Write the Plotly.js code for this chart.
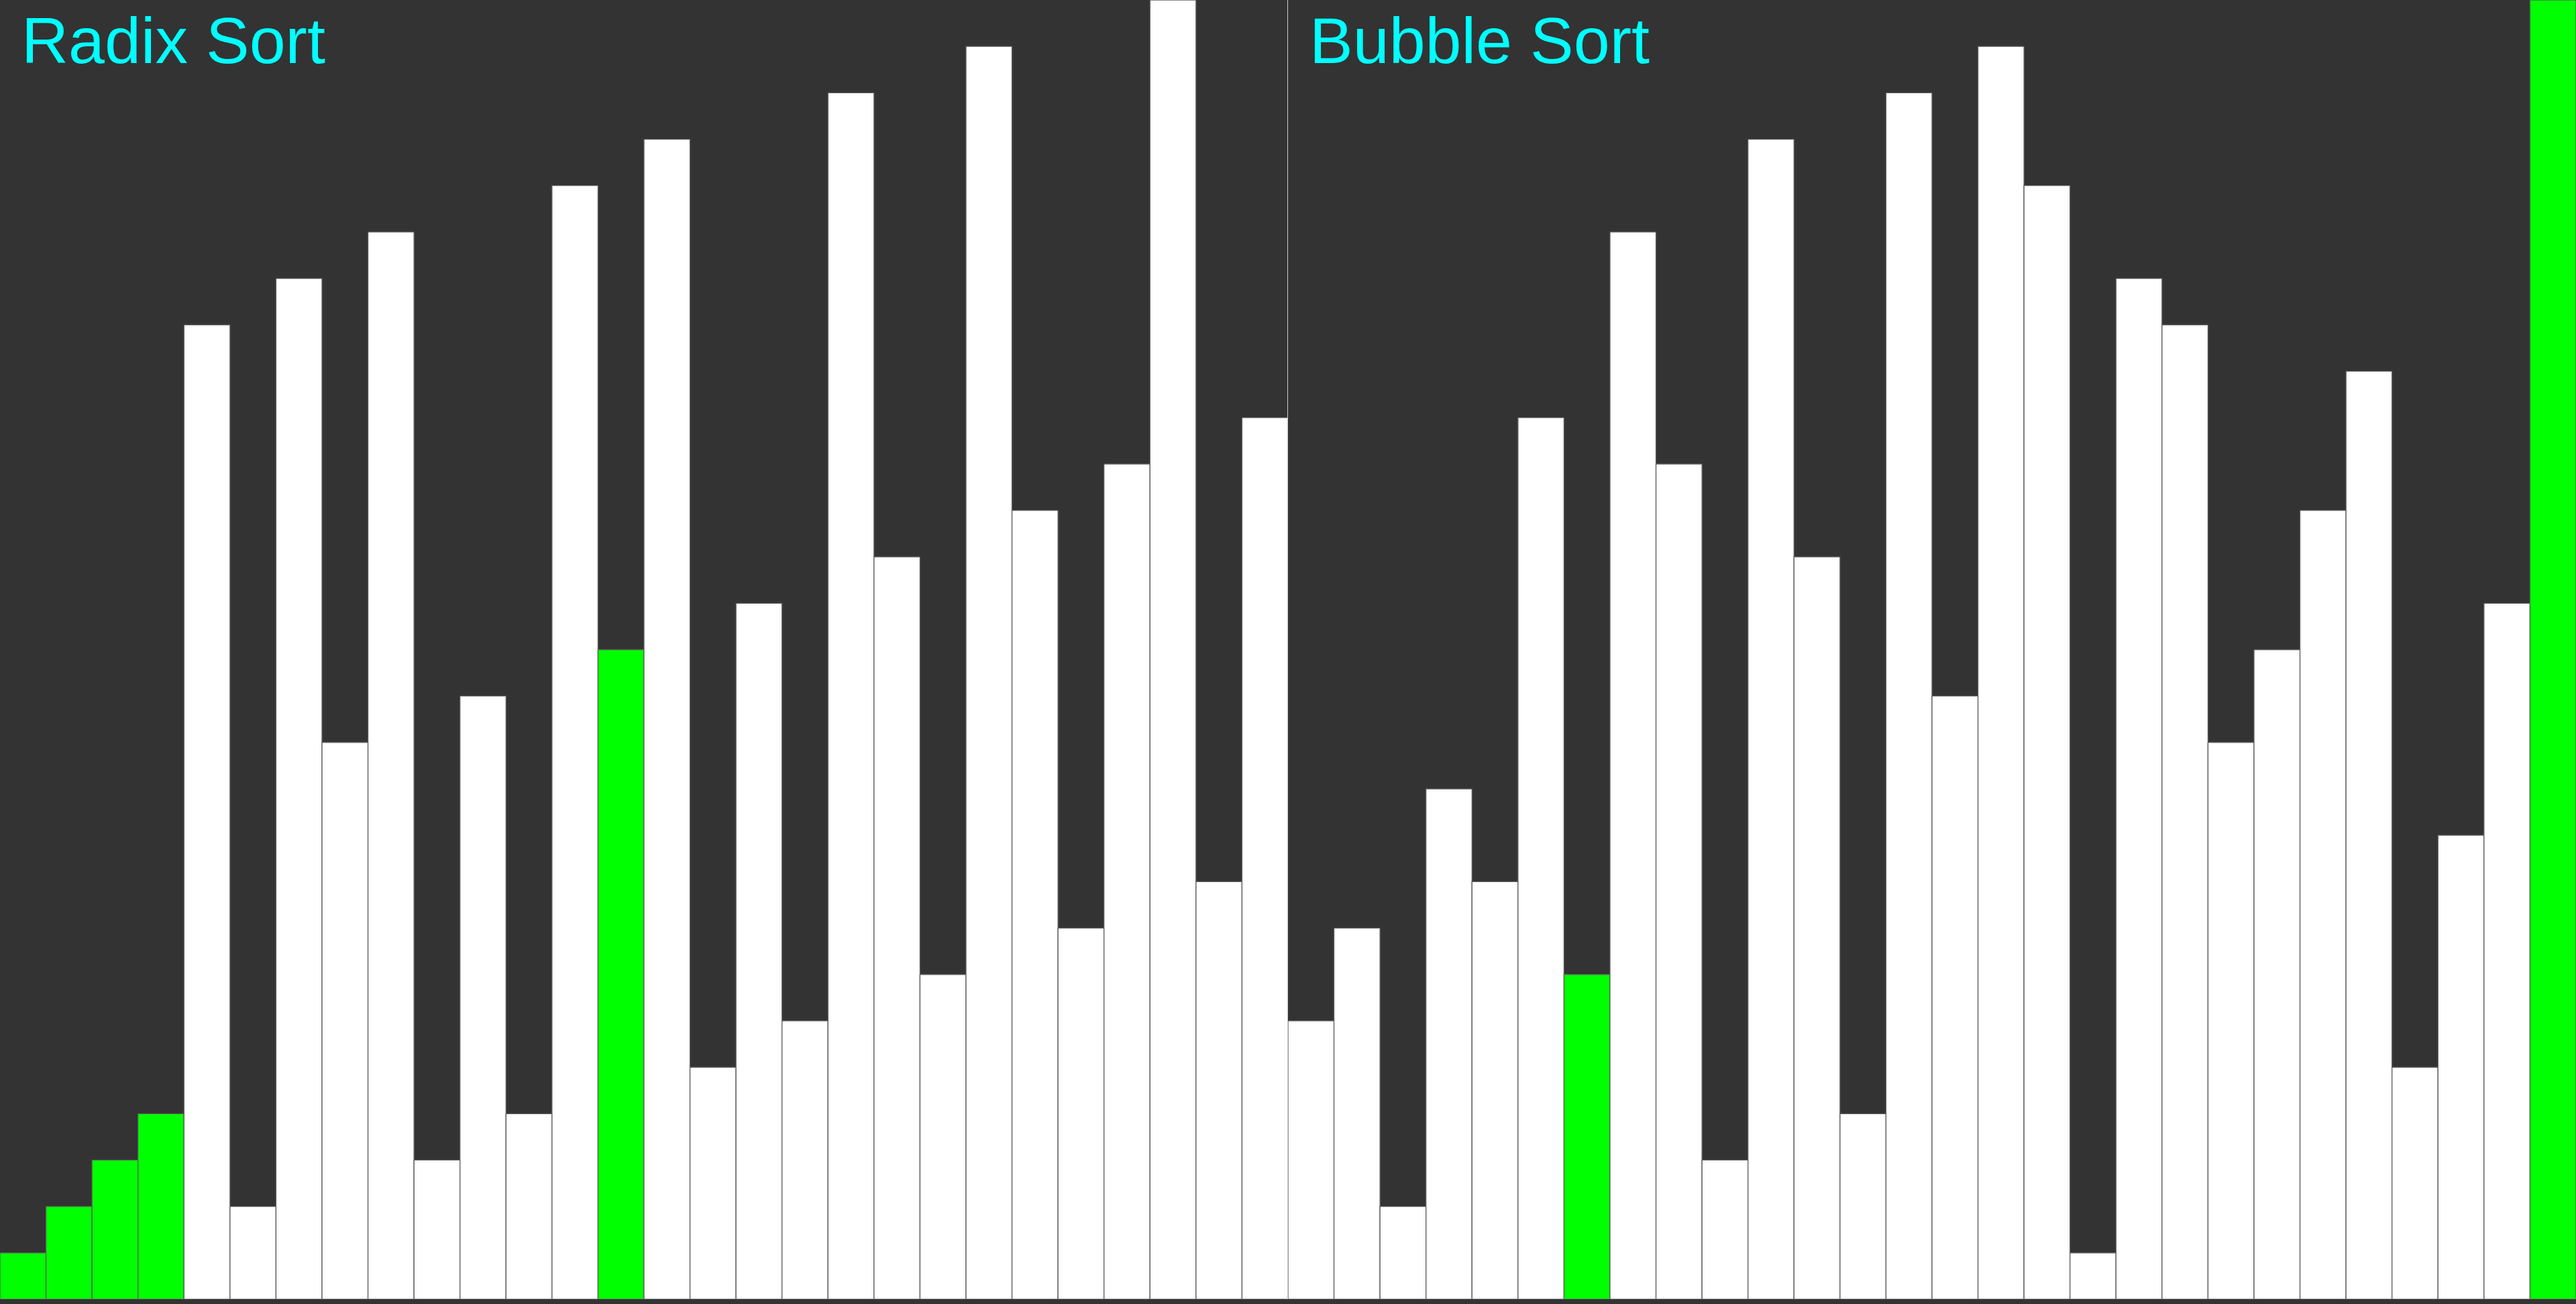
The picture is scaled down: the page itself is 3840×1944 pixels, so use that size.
<!DOCTYPE html>
<html>
<head>
<meta charset="utf-8">
<script src="https://cdn.plot.ly/plotly-3.0.1.min.js"></script>
<style>
  html, body { margin: 0; padding: 0; background: #333333; }
  #chart { width: 3840px; height: 1944px; }
</style>
</head>
<body>
<div id="chart"></div>
<script>
// Panel titles
const panelTitles = ["Radix Sort", "Bubble Sort"];

// Bar heights, left to right
const radixValues = [1, 2, 3, 4, 21, 2, 22, 12, 23, 3, 13, 4, 24, 14, 25, 5, 15, 6, 26, 16, 7, 27, 17, 8, 18, 28, 9, 19];
const bubbleValues = [6, 8, 2, 11, 9, 19, 7, 23, 18, 3, 25, 16, 4, 26, 13, 27, 24, 1, 22, 21, 12, 14, 17, 20, 5, 10, 15, 28];

// Positions of highlighted (green) bars
const radixHighlight = [0, 1, 2, 3, 13];
const bubbleHighlight = [6, 27];

const maxValue = 28;
const BAR = "#ffffff", HIL = "#00ff00", EDGE = "#5e5e5e";

function colorsFor(values, hl) {
  return values.map((v, i) => hl.includes(i) ? HIL : BAR);
}
function positions(values) { return values.map((v, i) => i); }

const traces = [
  {
    type: "bar", x: positions(radixValues), y: radixValues,
    xaxis: "x", yaxis: "y",
    marker: { color: colorsFor(radixValues, radixHighlight), line: { color: EDGE, width: 1.3 } },
    hoverinfo: "skip", showlegend: false
  },
  {
    type: "bar", x: positions(bubbleValues), y: bubbleValues,
    xaxis: "x2", yaxis: "y2",
    marker: { color: colorsFor(bubbleValues, bubbleHighlight), line: { color: EDGE, width: 1.3 } },
    hoverinfo: "skip", showlegend: false
  }
];

const xBase = { showgrid: false, zeroline: false, showticklabels: false, ticks: "", showline: false, fixedrange: true };
const yBase = { showgrid: false, zeroline: false, showticklabels: false, ticks: "", showline: true,
  linecolor: "#cccccc", linewidth: 1, layer: "below traces", range: [0, maxValue], fixedrange: true };

const layout = {
  width: 3840, height: 1944,
  margin: { l: 0, r: 0, t: 0, b: 7, pad: 0 },
  paper_bgcolor: "#333333", plot_bgcolor: "#333333",
  bargap: 0,
  xaxis: Object.assign({}, xBase, { domain: [0, 0.5], range: [-0.5, radixValues.length - 0.5] }),
  xaxis2: Object.assign({}, xBase, { domain: [0.5, 1], range: [-0.5, bubbleValues.length - 0.5], anchor: "y2" }),
  yaxis: Object.assign({}, yBase, { anchor: "x" }),
  yaxis2: Object.assign({}, yBase, { anchor: "x2" }),
  annotations: panelTitles.map((t, i) => ({
    text: t, showarrow: false,
    xref: (i === 0 ? "x" : "x2") + " domain", yref: (i === 0 ? "y" : "y2") + " domain",
    x: 0, y: 1, xanchor: "left", yanchor: "top", xshift: 30, yshift: -4,
    font: { family: "Liberation Sans, Arial, sans-serif", size: 97, color: "#00ffff" }
  }))
};

Plotly.newPlot("chart", traces, layout, { staticPlot: true, displayModeBar: false });
</script>
</body>
</html>
